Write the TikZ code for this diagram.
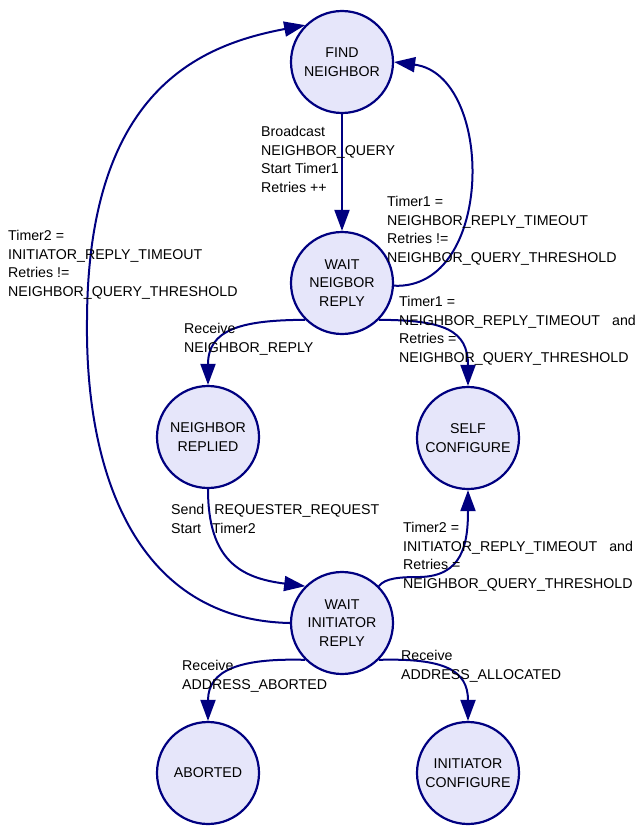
\documentclass[tikz,border=0pt]{standalone}
\usepackage{fontspec}
\setmainfont{Liberation Sans}
\usetikzlibrary{arrows.meta}
\definecolor{edgeblue}{RGB}{0,0,128}
\definecolor{statefill}{RGB}{230,230,250}

\begin{document}
\begin{tikzpicture}[x=1pt,y=-1pt,
  state/.style={circle,draw=edgeblue,fill=statefill,line width=2.2pt,
    minimum size=102pt,inner sep=0pt,align=center,
    font=\fontsize{14.2pt}{18.7pt}\selectfont},
  trans/.style={draw=edgeblue,line width=2pt,
    -{Triangle[length=21pt,width=15pt]}},
  lbl/.style={anchor=north west,inner sep=0pt,align=left,
    font=\fontsize{14.2pt}{18.7pt}\selectfont}]
\useasboundingbox (0,0) rectangle (638,827);

% states
\node[state] (find)  at (342,62)  {FIND\\NEIGHBOR};
\node[state] (wnr)   at (342,283) {WAIT\\NEIGBOR\\REPLY};
\node[state] (nrep)  at (208,437) {NEIGHBOR\\REPLIED};
\node[state] (self)  at (468,438) {SELF\\CONFIGURE};
\node[state] (wir)   at (342,623) {WAIT\\INITIATOR\\REPLY};
\node[state] (abort) at (208,773) {ABORTED};
\node[state] (icfg)  at (468,773) {INITIATOR\\CONFIGURE};

% transitions
\draw[trans] (find.south) -- (wnr.north);
\draw[trans] (wnr.-3) .. controls (495,290) and (495,75) .. (find.east);
\draw[trans] (wnr.225) .. controls (240,320) and (208,330) .. (nrep.north);
\draw[trans] (wnr.-45) .. controls (444,320) and (468,330) .. (self.north);
\draw[trans] (nrep.south) .. controls (208,560) and (240,578) .. (wir.135);
\draw[trans] (wir.45) .. controls (385,578) and (400,577) .. (420,577)
  .. controls (462,576) and (468,545) .. (self.south);
\draw[trans] (wir.west) .. controls (140,620) and (85,480) .. (87,320)
  .. controls (88,90) and (200,45) .. (find.135);
\draw[trans] (wir.225) .. controls (240,658) and (208,670) .. (abort.north);
\draw[trans] (wir.-45) .. controls (444,658) and (468,670) .. (icfg.north);

% transition labels
\node[lbl] (l1) at (261,126) {Broadcast\\NEIGHBOR\_QUERY\\Start Timer1\\Retries ++};
\node[lbl] (l2) at (387,196) {Timer1 =\\NEIGHBOR\_REPLY\_TIMEOUT\\Retries !=\\NEIGHBOR\_QUERY\_THRESHOLD};
\node[lbl] (l3) at (8,230) {Timer2 =\\INITIATOR\_REPLY\_TIMEOUT\\Retries !=\\NEIGHBOR\_QUERY\_THRESHOLD};
\node[lbl] (l4) at (184,323) {Receive\\NEIGHBOR\_REPLY};
\node[lbl] (l5) at (399,296) {Timer1 =\\NEIGHBOR\_REPLY\_TIMEOUT\hspace{12pt}and\\Retries =\\NEIGHBOR\_QUERY\_THRESHOLD};
\node[lbl] (l6) at (171,504) {Send\hspace{10pt}REQUESTER\_REQUEST\\Start\hspace{11pt}Timer2};
\node[lbl] (l7) at (403,522) {Timer2 =\\INITIATOR\_REPLY\_TIMEOUT\hspace{12pt}and\\Retries =\\NEIGHBOR\_QUERY\_THRESHOLD};
\node[lbl] (l8) at (182,660) {Receive\\ADDRESS\_ABORTED};
\node[lbl] (l9) at (401,650) {Receive\\ADDRESS\_ALLOCATED};
\end{tikzpicture}
\end{document}
